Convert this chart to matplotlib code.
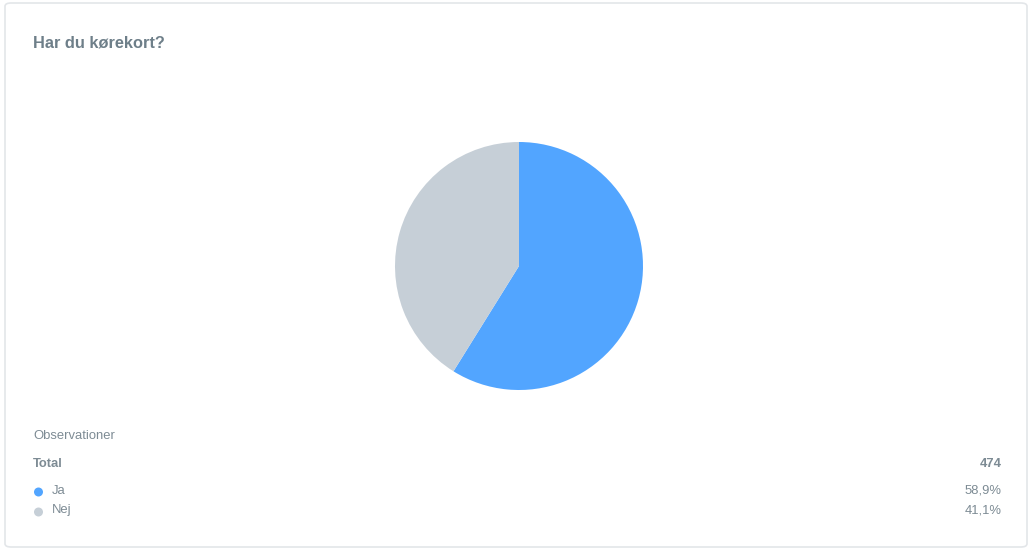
import matplotlib.pyplot as plt
from matplotlib.patches import FancyBboxPatch, Ellipse

plt.rcParams['font.family'] = ['Liberation Sans', 'DejaVu Sans']

title = 'Har du kørekort?'
labels = ['Ja', 'Nej']
counts = [279, 195]
colors = ['#52a5ff', '#c6cfd7']

W, H = 1031, 551
fig = plt.figure(figsize=(W / 100, H / 100), dpi=100)
fig.patch.set_facecolor('white')

# kort-ramme (bag akserne)
card = FancyBboxPatch((5 / W, 4 / H), 1022 / W, 544 / H,
                      boxstyle='round,pad=0,rounding_size=0.006',
                      transform=fig.transFigure, facecolor='white',
                      edgecolor='#e3e6e9', linewidth=1.2, zorder=-5)
fig.patches.append(card)

text_col = '#7d8b94'
fig.text(33 / W, 1 - 43 / H, title, fontsize=11.8, fontweight='bold',
         color='#6e7f89', va='center', ha='left')

# lagkage
cx, cy, r = 519, 266, 124
ax = fig.add_axes([(cx - r) / W, 1 - (cy + r) / H, 2 * r / W, 2 * r / H])
ax.pie(counts, colors=colors, startangle=90, counterclock=False,
       wedgeprops=dict(linewidth=0))
ax.set_xlim(-1, 1)
ax.set_ylim(-1, 1)
ax.set_aspect('equal')
ax.axis('off')

total = sum(counts)
fs = 9.4
fig.text(33 / W, 1 - 436 / H, 'Observationer', fontsize=fs, color=text_col,
         va='center', ha='left')
fig.text(33 / W, 1 - 464 / H, 'Total', fontsize=fs, fontweight='bold',
         color=text_col, va='center', ha='left')
fig.text(1002 / W, 1 - 464 / H, str(total), fontsize=fs, fontweight='bold',
         color=text_col, va='center', ha='right')

for i, (lab, c, col) in enumerate(zip(labels, counts, colors)):
    y = 1 - (492 + 20 * i) / H
    fig.patches.append(Ellipse((38.5 / W, y), 9 / W, 9 / H,
                               transform=fig.transFigure,
                               facecolor=col, edgecolor='none'))
    fig.text(52 / W, y + 1.5 / H, lab, fontsize=fs, color=text_col,
             va='center', ha='left')
    pct = f'{100 * c / total:.1f}%'.replace('.', ',')
    fig.text(1002 / W, y + 1.5 / H, pct, fontsize=fs, color=text_col,
             va='center', ha='right')

fig.savefig('out.png', dpi=100)
